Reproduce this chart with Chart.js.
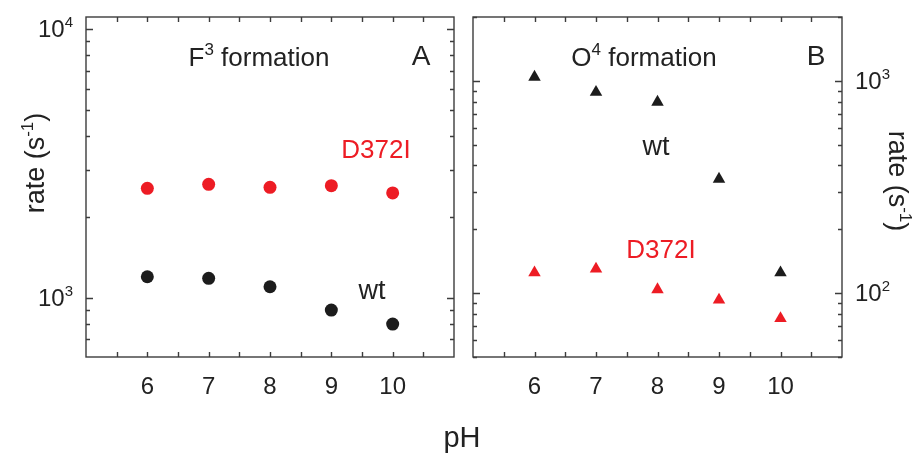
<!DOCTYPE html>
<html>
<head>
<meta charset="utf-8">
<script src="https://cdn.jsdelivr.net/npm/chart.js@4"></script>
<style>
  html, body { margin: 0; padding: 0; background: #fff; }
  #wrap { position: relative; width: 920px; height: 462px; }
  #wrap canvas { position: absolute; left: 0; top: 0; }
</style>
</head>
<body>
<div id="wrap">
  <canvas id="chartA" width="920" height="462"></canvas>
  <canvas id="chartB" width="920" height="462"></canvas>
</div>
<script>
// data
const phValues = [6, 7, 8, 9, 10];
const f3Wt = [1197, 1181, 1099, 900, 798];
const f3D372I = [2553, 2642, 2575, 2612, 2454];
const o4Wt = [1044, 887, 796, 345, 125];
const o4D372I = [125, 130, 104, 93, 76];
const xTickLabels = ['6', '7', '8', '9', '10'];
const f3Decades = [3, 4];
const o4Decades = [2, 3];

const RED = '#ED1C24';
const BLACK = '#1c1c1c';
const FRAME = '#3c3c3c';
const FONT = '"Liberation Sans", Arial, sans-serif';

function toPoints(xs, ys) {
    return xs.map((x, i) => ({ x: x, y: ys[i] }));
}

// draw a run of text pieces, some of them superscript
function drawRich(ctx, parts, x, y, size, align) {
    const supSize = Math.round(size * 0.64);
    let total = 0;
    parts.forEach(p => {
        ctx.font = (p.sup ? supSize : size) + 'px ' + FONT;
        p.w = ctx.measureText(p.t).width;
        total += p.w;
    });
    let cx = x;
    if (align === 'center') cx = x - total / 2;
    if (align === 'right') cx = x - total;
    ctx.textAlign = 'left';
    ctx.textBaseline = 'alphabetic';
    parts.forEach(p => {
        ctx.font = (p.sup ? supSize : size) + 'px ' + FONT;
        ctx.fillText(p.t, cx, p.sup ? y - size * 0.42 : y);
        cx += p.w;
    });
}

function panelPlugin(opts) {
    return {
        id: 'panel' + opts.name,
        afterDraw(chart) {
            const ctx = chart.ctx;
            const a = chart.chartArea;
            const xs = chart.scales.x;
            const ys = chart.scales.y;
            ctx.save();
            ctx.strokeStyle = FRAME;
            ctx.lineWidth = 1.4;
            ctx.strokeRect(a.left, a.top, a.right - a.left, a.bottom - a.top);

            // x ticks every half unit, top and bottom, inward
            ctx.beginPath();
            for (let v = 5.5; v < 11; v += 0.5) {
                const px = Math.round(xs.getPixelForValue(v)) + 0.5;
                ctx.moveTo(px, a.bottom); ctx.lineTo(px, a.bottom - 5);
                ctx.moveTo(px, a.top); ctx.lineTo(px, a.top + 5);
            }
            // y ticks (log), left and right, inward
            for (let d = -1; d <= 5; d++) {
                for (let m = 1; m <= 9; m++) {
                    const v = m * Math.pow(10, d);
                    if (v < ys.min || v > ys.max) continue;
                    const py = Math.round(ys.getPixelForValue(v)) + 0.5;
                    const len = m === 1 ? 7 : 4;
                    ctx.moveTo(a.left, py); ctx.lineTo(a.left + len, py);
                    ctx.moveTo(a.right, py); ctx.lineTo(a.right - len, py);
                }
            }
            ctx.stroke();

            ctx.fillStyle = '#222';
            // x tick labels
            ctx.font = '24px ' + FONT;
            ctx.textAlign = 'center';
            ctx.textBaseline = 'middle';
            phValues.forEach((v, i) => {
                ctx.fillText(xTickLabels[i], xs.getPixelForValue(v), 387);
            });
            // y tick labels 10^n
            opts.decades.forEach(n => {
                const py = ys.getPixelForValue(Math.pow(10, n));
                const parts = [{ t: '10' }, { t: String(n), sup: true }];
                if (opts.side === 'left') {
                    drawRich(ctx, parts, a.left - 13, py + 8, 24, 'right');
                } else {
                    drawRich(ctx, parts, a.right + 13, py + 8, 24, 'left');
                }
            });

            // axis title rate (s-1)
            const title = [{ t: 'rate (s' }, { t: '-1', sup: true }, { t: ')' }];
            ctx.save();
            if (opts.side === 'left') {
                ctx.translate(44, 163);
                ctx.rotate(-Math.PI / 2);
            } else {
                ctx.translate(889, 181);
                ctx.rotate(Math.PI / 2);
            }
            drawRich(ctx, title, 0, 0, 27, 'center');
            ctx.restore();

            // panel annotations
            ctx.fillStyle = '#222';
            drawRich(ctx, opts.heading, opts.headingX, 66, 26, 'center');
            ctx.font = '28px ' + FONT;
            ctx.textAlign = 'center';
            ctx.textBaseline = 'alphabetic';
            ctx.fillText(opts.letter, opts.letterX, 65);
            ctx.font = '27px ' + FONT;
            ctx.fillText('wt', opts.wtPos[0], opts.wtPos[1]);
            ctx.fillStyle = RED;
            ctx.font = '26px ' + FONT;
            ctx.fillText('D372I', opts.mutPos[0], opts.mutPos[1]);

            if (opts.name === 'A') {
                ctx.fillStyle = '#222';
                ctx.font = '29px ' + FONT;
                ctx.fillText('pH', 462, 447);
            }
            ctx.restore();
        }
    };
}

function makePanel(id, opts) {
    return new Chart(document.getElementById(id), {
        type: 'scatter',
        data: {
            datasets: [{
                label: 'wt',
                data: toPoints(phValues, opts.wt),
                pointStyle: opts.marker,
                pointRadius: opts.radius,
                backgroundColor: BLACK,
                borderColor: BLACK,
                borderWidth: 0
            }, {
                label: 'D372I',
                data: toPoints(phValues, opts.mut),
                pointStyle: opts.marker,
                pointRadius: opts.radius,
                backgroundColor: RED,
                borderColor: RED,
                borderWidth: 0
            }]
        },
        options: {
            responsive: false,
            animation: false,
            devicePixelRatio: 1,
            layout: { padding: opts.padding },
            plugins: { legend: { display: false }, tooltip: { enabled: false } },
            scales: {
                x: { type: 'linear', min: 5, max: 11, display: false },
                y: { type: 'logarithmic', min: opts.yMin, max: opts.yMax, display: false }
            }
        },
        plugins: [panelPlugin(opts)]
    });
}

makePanel('chartA', {
    name: 'A',
    wt: f3Wt,
    mut: f3D372I,
    marker: 'circle',
    radius: 6.5,
    yMin: 602,
    yMax: 11080,
    padding: { left: 86, right: 466, top: 17, bottom: 105 },
    decades: f3Decades,
    side: 'left',
    heading: [{ t: 'F' }, { t: '3', sup: true }, { t: ' formation' }],
    headingX: 259,
    letter: 'A',
    letterX: 421,
    wtPos: [372, 299],
    mutPos: [376, 158]
});

makePanel('chartB', {
    name: 'B',
    wt: o4Wt,
    mut: o4D372I,
    marker: 'triangle',
    radius: 7.2,
    yMin: 50,
    yMax: 2004,
    padding: { left: 473, right: 78, top: 17, bottom: 105 },
    decades: o4Decades,
    side: 'right',
    heading: [{ t: 'O' }, { t: '4', sup: true }, { t: ' formation' }],
    headingX: 644,
    letter: 'B',
    letterX: 816,
    wtPos: [656, 155],
    mutPos: [661, 258]
});
</script>
</body>
</html>
